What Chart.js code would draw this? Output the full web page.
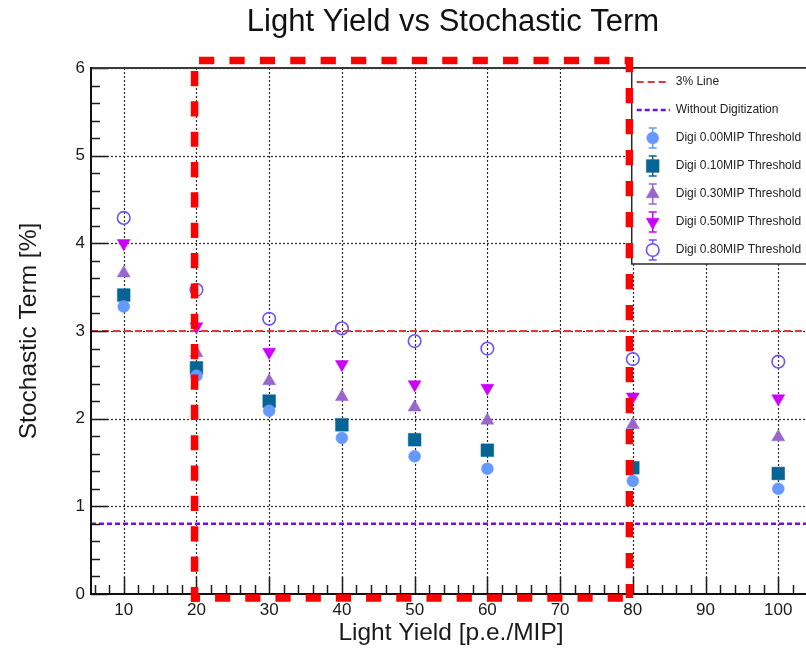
<!DOCTYPE html>
<html>
<head>
<meta charset="utf-8">
<title>Light Yield vs Stochastic Term</title>
<script src="https://cdn.jsdelivr.net/npm/chart.js@4.4.1/dist/chart.umd.min.js"></script>
<style>
  html, body { margin: 0; padding: 0; background: #ffffff; overflow: hidden; }
  #wrap { width: 806px; height: 651px; overflow: hidden; position: relative; }
  canvas { display: block; }
</style>
</head>
<body>
<div id="wrap"><canvas id="chart" width="906" height="651"></canvas></div>
<script>
// ---- data -------------------------------------------------------------
const lightYield = [10, 20, 30, 40, 50, 60, 80, 100];          // p.e./MIP
const stochDigi000 = [3.28, 2.49, 2.09, 1.78, 1.57, 1.43, 1.29, 1.20];
const stochDigi010 = [3.41, 2.58, 2.20, 1.93, 1.76, 1.64, 1.44, 1.375];
const stochDigi030 = [3.66, 2.75, 2.43, 2.25, 2.13, 1.98, 1.93, 1.79];
const stochDigi050 = [4.00, 3.05, 2.76, 2.62, 2.39, 2.35, 2.25, 2.23];
const stochDigi080 = [4.29, 3.47, 3.14, 3.03, 2.885, 2.80, 2.68, 2.65];
const threePercentLevel = 3.0;      // "3% Line"
const noDigitizationLevel = 0.8;    // "Without Digitization"
const xTickValues = [10, 20, 30, 40, 50, 60, 70, 80, 90, 100];
const yTickValues = [0, 1, 2, 3, 4, 5, 6];

// ---- axis ranges ------------------------------------------------------
const X_MIN = 5.5, X_MAX = 104.5, X_MINOR = 2;
const Y_MIN = 0, Y_MAX = 6, Y_MINOR = 0.2;

// highlighted light-yield window (20 .. 80 p.e./MIP), in axis units
const highlightBox = { xFrom: 19.74, xTo: 79.53, yFrom: -0.046, yTo: 6.086 };

const FONT = "'Liberation Sans', Arial, Helvetica, sans-serif";

// ---- series styles ------------------------------------------------------
const markerSeries = [
  { label: 'Digi 0.00MIP Threshold', values: stochDigi000, pointStyle: 'circle',   radius: 6,   rotation: 0,   fill: '#6699ff', stroke: '#6699ff', borderWidth: 0.5 },
  { label: 'Digi 0.10MIP Threshold', values: stochDigi010, pointStyle: 'rect',     radius: 9,   rotation: 0,   fill: '#066595', stroke: '#066595', borderWidth: 0.5 },
  { label: 'Digi 0.30MIP Threshold', values: stochDigi030, pointStyle: 'triangle', radius: 7.5, rotation: 0,   fill: '#9966cc', stroke: '#9966cc', borderWidth: 0.5 },
  { label: 'Digi 0.50MIP Threshold', values: stochDigi050, pointStyle: 'triangle', radius: 7.5, rotation: 180, fill: '#cc00ff', stroke: '#cc00ff', borderWidth: 0.5 },
  { label: 'Digi 0.80MIP Threshold', values: stochDigi080, pointStyle: 'circle',   radius: 6.3, rotation: 0,   fill: 'rgba(0,0,0,0)', stroke: '#6e50ff', borderWidth: 1.6 }
];

const levelSeries = [
  { label: '3% Line',              level: threePercentLevel,   color: '#e03a3a', width: 2,   dash: [7, 4] },
  { label: 'Without Digitization', level: noDigitizationLevel, color: '#7010e0', width: 2.5, dash: [5, 3] }
];

const datasets = [
  ...markerSeries.map(s => ({
    label: s.label,
    xAxisID: 'x', yAxisID: 'y',
    data: lightYield.map((x, i) => ({ x: x, y: s.values[i] })),
    showLine: false,
    pointStyle: s.pointStyle,
    pointRadius: s.radius,
    pointRotation: s.rotation,
    backgroundColor: s.fill,
    borderColor: s.stroke,
    pointBorderWidth: s.borderWidth
  })),
  ...levelSeries.map(s => ({
    label: s.label,
    xAxisID: 'x', yAxisID: 'y',
    data: [{ x: X_MIN, y: s.level }, { x: X_MAX, y: s.level }],
    showLine: true,
    pointRadius: 0,
    borderColor: s.color,
    borderWidth: s.width,
    borderDash: s.dash,
    fill: false
  }))
];

// ---- helpers --------------------------------------------------------------
function seg(ctx, x1, y1, x2, y2) {
  ctx.beginPath(); ctx.moveTo(x1, y1); ctx.lineTo(x2, y2); ctx.stroke();
}

function markerAt(ctx, s, x, y) {
  ctx.fillStyle = s.fill;
  ctx.strokeStyle = s.stroke;
  ctx.lineWidth = s.borderWidth;
  Chart.helpers.drawPoint(ctx, { pointStyle: s.pointStyle, rotation: s.rotation, radius: s.radius, borderWidth: s.borderWidth }, x, y);
}

// dotted grid, frame and inward ticks
const frameAndGrid = {
  id: 'frameAndGrid',
  beforeDatasetsDraw(chart) {
    const { ctx, chartArea: a, scales: { x, y } } = chart;
    ctx.save();
    ctx.beginPath(); ctx.rect(a.left, a.top, a.right - a.left, a.bottom - a.top); ctx.clip();
    ctx.strokeStyle = '#2a2a2a';
    ctx.lineWidth = 1.2;
    ctx.setLineDash([2, 2]);
    xTickValues.forEach(v => { const p = Math.round(x.getPixelForValue(v)) + 0.5; seg(ctx, p, a.top, p, a.bottom); });
    yTickValues.forEach(v => { const p = Math.round(y.getPixelForValue(v)) + 0.5; seg(ctx, a.left, p, a.right, p); });
    ctx.restore();
  },
  afterDatasetsDraw(chart) {
    const { ctx, chartArea: a, scales: { x, y } } = chart;
    ctx.save();
    ctx.setLineDash([]);
    ctx.strokeStyle = '#1c1c1c';
    ctx.lineWidth = 1.5;
    // y ticks
    for (let v = Y_MIN; v <= Y_MAX + 1e-9; v += Y_MINOR) {
      const major = yTickValues.some(t => Math.abs(t - v) < 1e-6);
      const p = Math.round(y.getPixelForValue(v)) + 0.5;
      seg(ctx, a.left, p, a.left + (major ? 17 : 9), p);
    }
    // x ticks
    for (let v = Math.ceil(X_MIN / X_MINOR) * X_MINOR; v <= X_MAX + 1e-9; v += X_MINOR) {
      const major = xTickValues.some(t => Math.abs(t - v) < 1e-6);
      const p = Math.round(x.getPixelForValue(v)) + 0.5;
      seg(ctx, p, a.bottom, p, a.bottom - (major ? 17 : 9));
    }
    // frame
    ctx.lineWidth = 2;
    ctx.strokeStyle = '#3a3a3a';
    seg(ctx, a.left, a.top, a.right, a.top);
    seg(ctx, a.right, a.top, a.right, a.bottom);
    ctx.strokeStyle = '#111111';
    seg(ctx, a.left, a.top - 1, a.left, a.bottom + 1);
    seg(ctx, a.left - 1, a.bottom, a.right, a.bottom);
    ctx.restore();
  }
};

// legend box in the upper right corner of the frame
const cornerLegend = {
  id: 'cornerLegend',
  afterDatasetsDraw(chart) {
    const { ctx, chartArea: a } = chart;
    const w = a.right - a.left, h = a.bottom - a.top;
    const left = a.left + 0.751 * w, top = a.top, right = a.right, bottom = a.top + 0.3726 * h;
    const rows = levelSeries.length + markerSeries.length;
    const rowH = (bottom - top) / rows;
    ctx.save();
    ctx.fillStyle = '#ffffff';
    ctx.fillRect(left, top, right - left, bottom - top);
    ctx.strokeStyle = '#2a2a2a';
    ctx.lineWidth = 1.5;
    ctx.setLineDash([]);
    ctx.strokeRect(left, top, right - left, bottom - top);
    ctx.font = '12px ' + FONT;
    ctx.textBaseline = 'middle';
    ctx.textAlign = 'left';
    let row = 0;
    levelSeries.forEach(s => {
      const cy = top + rowH * (row + 0.5);
      ctx.strokeStyle = s.color; ctx.lineWidth = s.width; ctx.setLineDash(s.dash);
      seg(ctx, left + 5, cy, left + 38, cy);
      ctx.setLineDash([]);
      ctx.fillStyle = '#222222';
      ctx.fillText(s.label, left + 44, cy);
      row++;
    });
    markerSeries.forEach(s => {
      const cy = top + rowH * (row + 0.5);
      const cx = left + 21;
      ctx.setLineDash([]);
      ctx.strokeStyle = s.stroke; ctx.lineWidth = 1.5;
      seg(ctx, cx, cy - 10, cx, cy + 10);
      seg(ctx, cx - 4, cy - 10, cx + 4, cy - 10);
      seg(ctx, cx - 4, cy + 10, cx + 4, cy + 10);
      if (s.fill === 'rgba(0,0,0,0)') {
        ctx.fillStyle = '#ffffff';
        ctx.beginPath(); ctx.arc(cx, cy, s.radius, 0, Math.PI * 2); ctx.fill();
      }
      markerAt(ctx, s, cx, cy);
      ctx.fillStyle = '#222222';
      ctx.fillText(s.label, left + 44, cy);
      row++;
    });
    ctx.restore();
  }
};

// thick red dashed frame around the 20..80 window
const highlightFrame = {
  id: 'highlightFrame',
  afterDraw(chart) {
    const { ctx, scales: { x, y } } = chart;
    const L = x.getPixelForValue(highlightBox.xFrom), R = x.getPixelForValue(highlightBox.xTo);
    const T = y.getPixelForValue(highlightBox.yTo), B = y.getPixelForValue(highlightBox.yFrom);
    ctx.save();
    ctx.strokeStyle = '#ff0000';
    ctx.lineWidth = 7.5;
    ctx.lineCap = 'butt';
    const side = (x1, y1, x2, y2, period, firstDash) => {
      ctx.setLineDash([15.2, period - 15.2]);
      ctx.lineDashOffset = period - firstDash;
      seg(ctx, x1, y1, x2, y2);
    };
    side(L, T, R, T, 30.4, 4.5);            // top
    side(R, T - 3.5, R, B, 31.0, 0.01);     // right
    side(L, T, L, B + 5, 30.35, 10.5);      // left
    side(L, B, R, B, 30.2, 20.5);           // bottom
    ctx.restore();
  }
};

new Chart(document.getElementById('chart'), {
  type: 'scatter',
  data: { datasets: datasets },
  plugins: [frameAndGrid, cornerLegend, highlightFrame],
  options: {
    responsive: false,
    animation: false,
    devicePixelRatio: 1,
    events: [],
    layout: { padding: 0 },
    plugins: {
      legend: { display: false },
      tooltip: { enabled: false },
      title: {
        display: true,
        text: 'Light Yield vs Stochastic Term',
        color: '#111111',
        font: { family: FONT, size: 31, weight: 'normal', lineHeight: 1.2 },
        padding: { top: 4, bottom: 26.8 }
      }
    },
    scales: {
      x: {
        type: 'linear',
        min: X_MIN, max: X_MAX,
        afterBuildTicks: s => { s.ticks = xTickValues.map(v => ({ value: v })); },
        afterFit: s => { s.height = 57; },
        grid: { display: false, drawTicks: false },
        border: { display: false },
        ticks: { color: '#1a1a1a', font: { family: FONT, size: 17 }, padding: 6, maxRotation: 0 },
        title: { display: true, text: 'Light Yield [p.e./MIP]', color: '#1a1a1a',
                 font: { family: FONT, size: 24.5, lineHeight: 1.2 }, padding: { top: 0, bottom: 3 } }
      },
      y: {
        type: 'linear',
        position: 'left',
        min: Y_MIN, max: Y_MAX,
        afterBuildTicks: s => { s.ticks = yTickValues.map(v => ({ value: v })); },
        afterFit: s => { s.width = 91; },
        grid: { display: false, drawTicks: false },
        border: { display: false },
        ticks: { color: '#1a1a1a', font: { family: FONT, size: 17 }, padding: 6 },
        title: { display: true, text: 'Stochastic Term [%]', color: '#1a1a1a',
                 font: { family: FONT, size: 24.5, lineHeight: 1.2 }, padding: { top: 15, bottom: 0 } }
      },
      // empty right-hand margin of the pad
      yMargin: {
        type: 'linear',
        position: 'right',
        min: Y_MIN, max: Y_MAX,
        afterFit: s => { s.width = 95; },
        grid: { display: false, drawTicks: false },
        border: { display: false },
        ticks: { display: false }
      }
    }
  }
});
</script>
</body>
</html>
